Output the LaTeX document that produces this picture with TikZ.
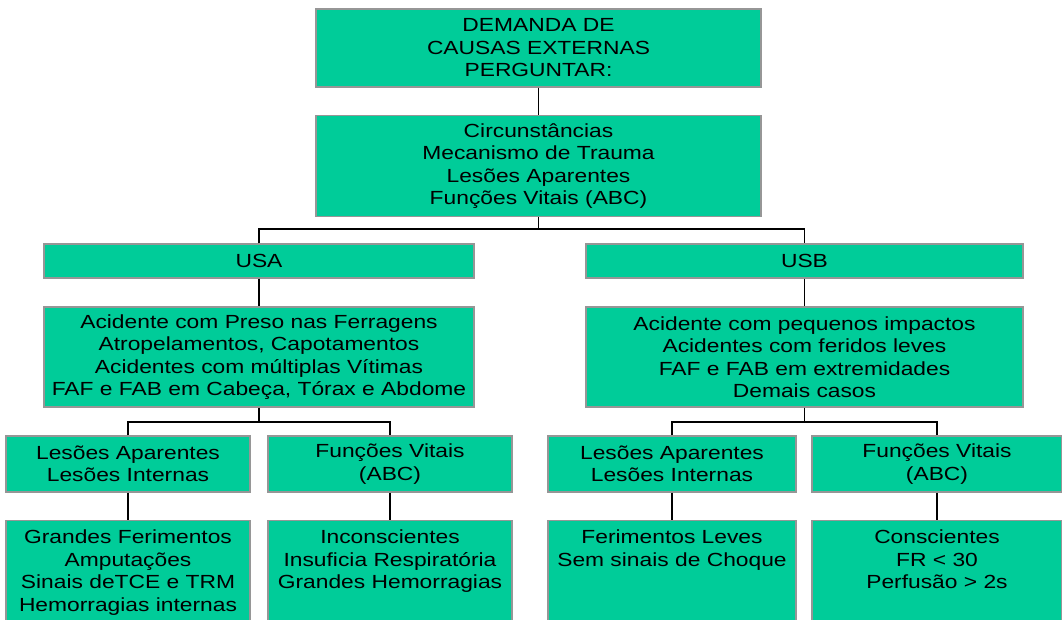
\documentclass[tikz,border=0pt]{standalone}
\usepackage{fontspec}
\setmainfont{Liberation Sans}[FakeStretch=1.2]
\usepackage{tikz}

\definecolor{boxgreen}{RGB}{0,204,153}
\definecolor{boxedge}{RGB}{150,150,150}

\tikzset{
  box/.style={draw=boxedge, line width=1.2pt, fill=boxgreen, align=center,
    inner sep=0pt, font=\fontsize{19}{22.5}\selectfont},
  lowbox/.style={box, anchor=north},
  wire/.style={black, line width=1.4pt}
}

\begin{document}
\begin{tikzpicture}[x=1pt,y=-1pt]
\useasboundingbox (0,0) rectangle (1062,619);
% top of the tree
\node[box, minimum width=445, minimum height=78] (dem) at (538.5,48) {DEMANDA DE\\CAUSAS EXTERNAS\\PERGUNTAR:};
\node[box, minimum width=445, minimum height=101] (circ) at (538.5,166) {Circunst\^ancias\\Mecanismo de Trauma\\Les\~oes Aparentes\\Fun\c c\~oes Vitais (ABC)};
\coordinate (j1) at (538.5,229);
% the two units
\node[box, minimum width=430, minimum height=34] (usa) at (259,261) {USA};
\node[box, minimum width=437, minimum height=34] (usb) at (804.5,261) {USB};
\node[box, minimum width=430, minimum height=100] (usaq) at (259,357) {Acidente com Preso nas Ferragens\\Atropelamentos, Capotamentos\\Acidentes com m\'ultiplas V\'itimas\\FAF e FAB em Cabe\c ca, T\'orax e Abdome};
\node[box, minimum width=437, minimum height=100] (usbq) at (804.5,357) {Acidente com pequenos impactos\\Acidentes com feridos leves\\FAF e FAB em extremidades\\Demais casos};
\coordinate (j2) at (259,422);
\coordinate (j3) at (804.5,422);
% what to look at
\node[box, minimum width=244, minimum height=56] (lesa) at (128,464) {Les\~oes Aparentes\\Les\~oes Internas};
\node[box, minimum width=244, minimum height=56] (vita) at (390,464) {Fun\c c\~oes Vitais\\(ABC)};
\node[box, minimum width=248, minimum height=56] (lesb) at (672,464) {Les\~oes Aparentes\\Les\~oes Internas};
\node[box, minimum width=250, minimum height=56] (vitb) at (937,464) {Fun\c c\~oes Vitais\\(ABC)};
% findings (text hangs from the top)
\node[lowbox, minimum width=244, text height=90.5pt, text depth=13.5pt] (grva) at (128,520) {Grandes Ferimentos\\Amputa\c c\~oes\\Sinais deTCE e TRM\\Hemorragias internas};
\node[lowbox, minimum width=244, text height=68pt, text depth=36pt] (inca) at (390,520) {Inconscientes\\Insuficia Respirat\'oria\\Grandes Hemorragias};
\node[lowbox, minimum width=248, text height=45.5pt, text depth=58.5pt] (levb) at (672,520) {Ferimentos Leves\\Sem sinais de Choque};
\node[lowbox, minimum width=250, text height=68pt, text depth=36pt] (conb) at (937,520) {Conscientes\\FR < 30\\Perfus\~ao > 2s};
% connectors
\draw[wire] (dem.south) -- (circ.north);
\draw[wire] (circ.south) -- (j1);
\draw[wire] (usa.north) |- (j1) -| (usb.north);
\draw[wire] (usa.south) -- (usaq.north);
\draw[wire] (usb.south) -- (usbq.north);
\draw[wire] (usaq.south) -- (j2);
\draw[wire] (usbq.south) -- (j3);
\draw[wire] (lesa.north) |- (j2) -| (vita.north);
\draw[wire] (lesb.north) |- (j3) -| (vitb.north);
\draw[wire] (lesa.south) -- (grva.north);
\draw[wire] (vita.south) -- (inca.north);
\draw[wire] (lesb.south) -- (levb.north);
\draw[wire] (vitb.south) -- (conb.north);
\end{tikzpicture}
\end{document}
